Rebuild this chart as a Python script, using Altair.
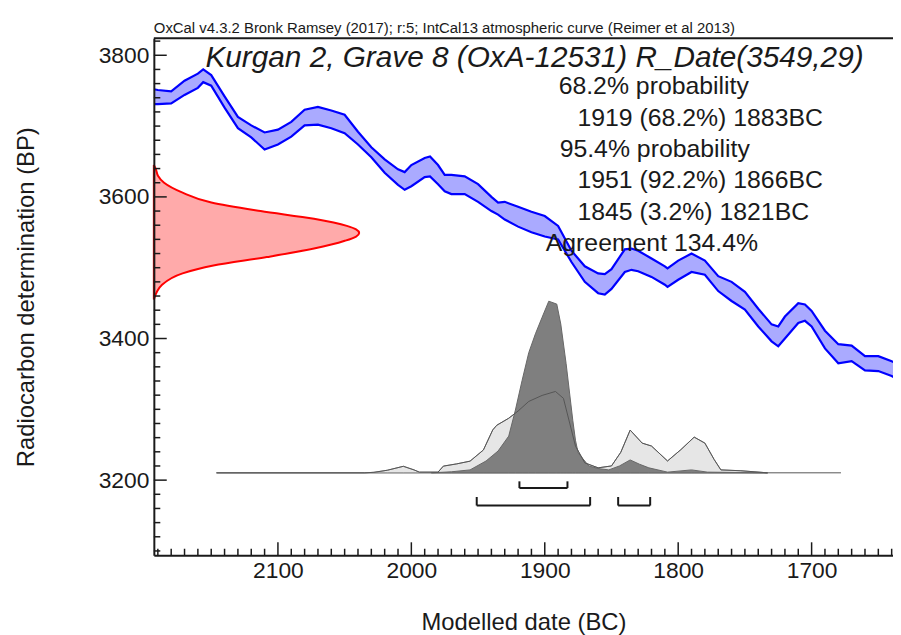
import altair as alt
import pandas as pd

FONT = "Liberation Sans"
INK = "#1a1a1a"

# ---------------- data ----------------
# IntCal13 band (calendar year BC, upper / lower edge in BP)
curve_year = [2193, 2190, 2180, 2170, 2160, 2156, 2150, 2140, 2130, 2120, 2110, 2100, 2090, 2080,
              2070, 2060, 2050, 2040, 2030, 2020, 2010, 2005, 2000, 1990, 1986, 1980, 1975, 1970,
              1960, 1950, 1940, 1935, 1930, 1920, 1910, 1900, 1890, 1880, 1870, 1860, 1855, 1850,
              1840, 1835, 1830, 1820, 1810, 1808, 1800, 1790, 1780, 1770, 1760, 1750, 1740, 1730,
              1725, 1720, 1710, 1705, 1700, 1690, 1680, 1670, 1660, 1650, 1640, 1638]
curve_upper = [3752, 3751, 3749, 3764, 3774, 3780, 3772, 3742, 3713, 3701, 3691, 3695, 3706, 3723,
               3727, 3722, 3716, 3692, 3670, 3653, 3639, 3635, 3645, 3655, 3657, 3645, 3631, 3631,
               3629, 3618, 3600, 3592, 3593, 3586, 3579, 3573, 3559, 3524, 3502, 3492, 3491, 3498,
               3526, 3527, 3524, 3513, 3502, 3499, 3510, 3520, 3510, 3488, 3480, 3466, 3442, 3420,
               3417, 3431, 3450, 3448, 3439, 3411, 3392, 3390, 3375, 3375, 3368, 3366]
curve_lower = [3731, 3731, 3732, 3744, 3754, 3762, 3757, 3726, 3697, 3684, 3667, 3674, 3685, 3701,
               3702, 3697, 3690, 3674, 3656, 3634, 3617, 3610, 3615, 3628, 3629, 3618, 3608, 3604,
               3604, 3593, 3580, 3575, 3568, 3558, 3550, 3544, 3540, 3508, 3480, 3464, 3462, 3470,
               3494, 3497, 3495, 3487, 3476, 3473, 3483, 3494, 3490, 3467, 3453, 3441, 3417, 3396,
               3389, 3400, 3422, 3425, 3417, 3386, 3365, 3368, 3355, 3354, 3347, 3345]

# R_Date(3549,29) likelihood (BP, relative density)
red_bp = [3645, 3639, 3630, 3620, 3606, 3592, 3580, 3569, 3559, 3554, 3549, 3544, 3538, 3527,
          3515, 3503, 3492, 3476, 3466, 3455]
red_dens = [0, 0.01, 0.02, 0.05, 0.14, 0.28, 0.52, 0.78, 0.94, 0.985, 1.0, 0.985, 0.93, 0.78,
            0.55, 0.29, 0.14, 0.04, 0.015, 0]

# unmodelled (light) calibrated distribution
light_year = [2146, 2035, 2028, 2018, 2006, 1998, 1994, 1980, 1976, 1966, 1956, 1946, 1939, 1936,
              1927, 1920, 1912, 1902, 1892, 1886, 1877, 1870, 1860, 1850, 1843, 1836, 1827, 1820,
              1808, 1798, 1788, 1780, 1773, 1768, 1753, 1733]
light_dens = [0, 0, 0.003, 0.015, 0.038, 0.017, 0.004, 0.004, 0.039, 0.052, 0.068, 0.133, 0.25,
              0.277, 0.318, 0.36, 0.416, 0.451, 0.474, 0.434, 0.156, 0.058, 0.029, 0.040, 0.12,
              0.249, 0.173, 0.156, 0.069, 0.135, 0.208, 0.173, 0.077, 0.017, 0.012, 0]

# modelled (dark) posterior distribution
dark_year = [1985, 1970, 1956, 1944, 1935, 1927, 1922, 1917, 1912, 1907, 1902, 1897, 1891, 1888,
             1884, 1879, 1877, 1875, 1867, 1860, 1852, 1844, 1836, 1829, 1822, 1808, 1790, 1778,
             1733]
dark_dens = [0, 0.006, 0.017, 0.069, 0.127, 0.214, 0.366, 0.538, 0.70, 0.81, 0.906, 1.0, 0.983,
             0.867, 0.636, 0.306, 0.19, 0.116, 0.04, 0.025, 0.017, 0.04, 0.075, 0.05, 0.029,
             0.004, 0.017, 0.004, 0]

baseline_from = [2146]
baseline_to = [1678]

# highest posterior density ranges
hpd68_from = [1919]
hpd68_to = [1883]
hpd95_from = [1951, 1845]
hpd95_to = [1866, 1821]

x_major = [2100, 2000, 1900, 1800, 1700]
x_minor = [y for y in range(2190, 1639, -10) if y % 100 != 0]
y_major = [3200, 3400, 3600, 3800]
y_minor = [b for b in range(3100, 3821, 20) if b % 200 != 0]

header = "OxCal v4.3.2 Bronk Ramsey (2017); r:5; IntCal13 atmospheric curve (Reimer et al 2013)"
title = "Kurgan 2, Grave 8 (OxA-12531) R_Date(3549,29)"
stats = ["68.2% probability", "1919 (68.2%) 1883BC", "95.4% probability",
         "1951 (92.2%) 1866BC", "1845 (3.2%) 1821BC", "Agreement 134.4%"]

# ---------------- chart ----------------
W, H = 745, 521
X = alt.Scale(domain=[2193, 1639], nice=False, zero=False)
Y = alt.Scale(domain=[3094, 3824], nice=False, zero=False)
GY = alt.Scale(domain=[-0.48, 2.532], nice=False, zero=False)
RX = alt.Scale(domain=[0, 3.6], nice=False, zero=False)

curve = pd.DataFrame({"year": curve_year, "upper": curve_upper, "lower": curve_lower})
red = pd.DataFrame({"bp": red_bp, "dens": red_dens})
light = pd.DataFrame({"year": light_year, "dens": light_dens})
dark = pd.DataFrame({"year": dark_year, "dens": dark_dens})
base = pd.DataFrame({"a": baseline_from, "b": baseline_to, "lvl": [0]})
h68 = pd.DataFrame({"a": hpd68_from, "b": hpd68_to, "lvl": [3188.8], "top": [3198.3]})
h95 = pd.DataFrame({"a": hpd95_from, "b": hpd95_to, "lvl": [3164.1] * 2, "top": [3176.2] * 2})

xaxis = alt.Axis(values=x_major, format="d", ticks=False, labelFont=FONT, labelFontSize=23,
                 labelColor=INK, labelPadding=4, domainColor=INK, domainWidth=2, grid=False,
                 title="Modelled date (BC)", titleFont=FONT, titleFontSize=24,
                 titleFontWeight="normal", titleColor=INK, titlePadding=29, zindex=1,
                 labelFlush=False)
yaxis = alt.Axis(values=y_major, format="d", ticks=False, labelFont=FONT, labelFontSize=23,
                 labelColor=INK, labelPadding=5, domainColor=INK, domainWidth=2, grid=False,
                 title="Radiocarbon determination (BP)", titleFont=FONT, titleFontSize=24,
                 titleFontWeight="normal", titleColor=INK, titlePadding=60, zindex=1)

band = alt.Chart(curve).mark_area(color="#aaaaff", opacity=1, clip=True).encode(
    x=alt.X("year:Q", scale=X, axis=xaxis),
    y=alt.Y("upper:Q", scale=Y, axis=yaxis),
    y2="lower:Q",
)
up_line = alt.Chart(curve).mark_line(color="#0000ff", strokeWidth=2.2, clip=True).encode(
    x=alt.X("year:Q", scale=X, axis=None), y=alt.Y("upper:Q", scale=Y, axis=None))
lo_line = alt.Chart(curve).mark_line(color="#0000ff", strokeWidth=2.2, clip=True).encode(
    x=alt.X("year:Q", scale=X, axis=None), y=alt.Y("lower:Q", scale=Y, axis=None))

red_area = alt.Chart(red).mark_area(orient="horizontal", fill="#ffaaaa", stroke="#ff0000",
                                    strokeWidth=2, interpolate="monotone").encode(
    y=alt.Y("bp:Q", scale=Y, axis=None),
    x=alt.X("dens:Q", scale=RX, axis=None),
    x2=alt.datum(0),
)

light_area = alt.Chart(light).mark_area(fill="#e6e6e6", stroke="#8a8a8a", strokeWidth=1).encode(
    x=alt.X("year:Q", scale=X, axis=None), y=alt.Y("dens:Q", scale=GY, axis=None), y2=alt.datum(0))
dark_area = alt.Chart(dark).mark_area(fill="#7f7f7f", stroke="#666666", strokeWidth=1).encode(
    x=alt.X("year:Q", scale=X, axis=None), y=alt.Y("dens:Q", scale=GY, axis=None), y2=alt.datum(0))
light_outline = alt.Chart(light).mark_line(color="#555555", strokeWidth=1).encode(
    x=alt.X("year:Q", scale=X, axis=None), y=alt.Y("dens:Q", scale=GY, axis=None))
baseline = alt.Chart(base).mark_rule(color="#555555", strokeWidth=1).encode(
    x=alt.X("a:Q", scale=X, axis=None), x2="b:Q", y=alt.Y("lvl:Q", scale=GY, axis=None))


def bracket(df):
    horiz = alt.Chart(df).mark_rule(color=INK, strokeWidth=2).encode(
        x=alt.X("a:Q", scale=X, axis=None), x2="b:Q", y=alt.Y("lvl:Q", scale=Y, axis=None))
    left = alt.Chart(df).mark_rule(color=INK, strokeWidth=2).encode(
        x=alt.X("a:Q", scale=X, axis=None), y=alt.Y("lvl:Q", scale=Y, axis=None), y2="top:Q")
    right = alt.Chart(df).mark_rule(color=INK, strokeWidth=2).encode(
        x=alt.X("b:Q", scale=X, axis=None), y=alt.Y("lvl:Q", scale=Y, axis=None), y2="top:Q")
    return [horiz, left, right]


def xticks(vals, length):
    return alt.Chart(pd.DataFrame({"t": vals})).mark_rule(color=INK, strokeWidth=1.5).encode(
        x=alt.X("t:Q", scale=X, axis=None), y=alt.value(H), y2=alt.value(H - length))


def yticks(vals, length):
    return alt.Chart(pd.DataFrame({"t": vals})).mark_rule(color=INK, strokeWidth=1.5).encode(
        y=alt.Y("t:Q", scale=Y, axis=None), x=alt.value(0), x2=alt.value(length))


one = alt.Data(values=[{}])
top_border = alt.Chart(one).mark_rule(color=INK, strokeWidth=2).encode(
    x=alt.value(0), x2=alt.value(W), y=alt.value(0))


def txt(s, x, y, size, style="normal"):
    return alt.Chart(one).mark_text(text=s, align="left", baseline="alphabetic", font=FONT,
                                    fontSize=size, fontStyle=style, color=INK).encode(
        x=alt.value(x), y=alt.value(y))


texts = [
    txt(header, 0, -5, 15),
    txt(title, 52, 29, 30, "italic"),
    txt(stats[0], 408, 55.7, 25),
    txt(stats[1], 427, 88, 25),
    txt(stats[2], 409, 119.7, 25),
    txt(stats[3], 427, 151.3, 25),
    txt(stats[4], 427, 183, 25),
    txt(stats[5], 395, 214, 25),
]

layers = ([band, up_line, lo_line, red_area, baseline, light_area, dark_area, light_outline]
          + bracket(h68) + bracket(h95)
          + [xticks(x_minor, 6.5), xticks(x_major, 13), yticks(y_minor, 6.5), yticks(y_major, 13),
             top_border] + texts)

chart = alt.layer(*layers).resolve_scale(x="independent", y="independent").properties(
    width=W, height=H,
    autosize=alt.AutoSizeParams(type="none"),
    padding={"left": 147, "top": 28, "right": 0, "bottom": 88},
    background="white",
).configure_view(stroke=None)

chart.save("out.html", embed_options={"renderer": "svg", "actions": False})
